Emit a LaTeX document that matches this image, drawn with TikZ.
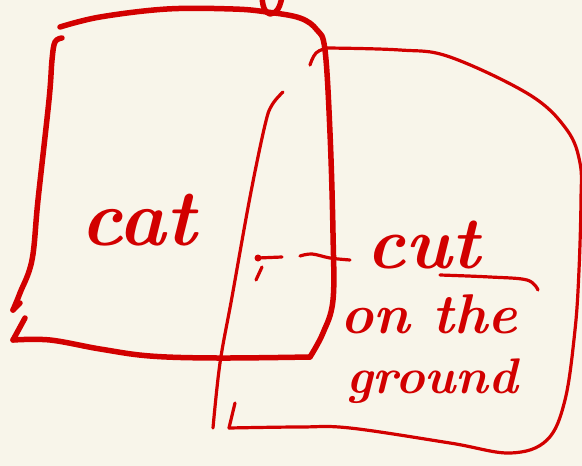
\documentclass[tikz,border=0pt]{standalone}
\usepackage{fontspec}
\definecolor{paper}{HTML}{F8F5EA}
\definecolor{ink}{HTML}{D20000}
\begin{document}
\begin{tikzpicture}[x=1pt,y=-1pt,line cap=round,line join=round,
    front/.style={ink,line width=5.5pt},
    back/.style={ink,line width=3.2pt},
    scrawl/.style={ink,font=\bfseries\itshape,inner sep=0pt}]
    \fill[paper] (0,0) rectangle (582,466);
    \useasboundingbox (0,0) rectangle (582,466);
    % box in front
    \draw[front] plot[smooth,tension=0.6] coordinates {(60,27) (100,17) (167,9) (233,9) (267,12) (300,18) (317,30) (325,50) (330,133) (333,233) (333,300) (323,333) (310,357)};
    \draw[front] plot[smooth,tension=0.6] coordinates {(310,357) (217,358) (150,356) (100,349) (50,340) (13,340)};
    \draw[front] (13,340)--(25,318);
    \draw[front] plot[smooth,tension=0.6] coordinates {(62,38) (55,42) (52,60) (49,100) (38,200) (32,260) (20,293) (13,310)};
    \draw[front] (13,310)--(20,303);
    \draw[front] plot[smooth,tension=0.7] coordinates {(262,-3) (264,8) (270,14) (278,9) (282,-3)};
    % box behind
    \draw[back] plot[smooth,tension=0.6] coordinates {(283,92) (272,105) (265,125) (250,197) (232,297) (220,363) (213,428)};
    \draw[back] (235,403)--(229,428);
    \draw[back] plot[smooth,tension=0.6] coordinates {(229,428) (300,427) (350,428) (450,443) (510,453) (547,440) (565,400) (575,330) (579,270) (581,200) (580,163) (567,130) (530,95) (450,57) (400,50) (327,48)};
    \draw[back] plot[smooth,tension=0.7] coordinates {(310,65) (316,53) (327,48)};
    % dashed pointer
    \fill[ink] (258,258) circle (3.5pt);
    \draw[back] (258,258)--(282,257);
    \draw[back] (262,267)--(256,280);
    \draw[back] plot[smooth,tension=0.6] coordinates {(300,256) (312,254) (330,258) (350,260)};
    % labels
    \node[scrawl,anchor=base west,font=\fontsize{80}{80}\selectfont\bfseries\itshape] (catlabel) at (80,245) {cat};
    \node[scrawl,anchor=base west,font=\fontsize{74}{74}\selectfont\bfseries\itshape] (cutlabel) at (366,268) {cut};
    \draw[back] plot[smooth,tension=0.6] coordinates {(440,275) (490,277) (527,280) (538,290)};
    \node[scrawl,anchor=base west,font=\fontsize{56}{56}\selectfont\bfseries\itshape] (onthe) at (340,333) {on the};
    \node[scrawl,anchor=base west,font=\fontsize{50}{50}\selectfont\bfseries\itshape] (ground) at (346,393) {ground};
\end{tikzpicture}
\end{document}
